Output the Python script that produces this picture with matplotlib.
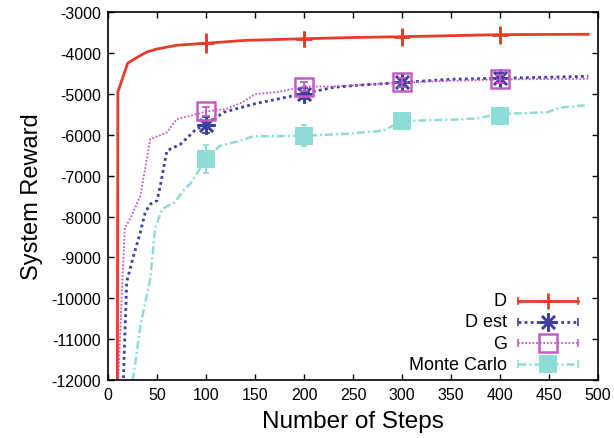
import matplotlib
matplotlib.use("Agg")
import matplotlib.pyplot as plt

plt.rcParams['font.family'] = ['Liberation Sans', 'DejaVu Sans']
plt.rcParams['axes.unicode_minus'] = False

# values
d_steps = [9, 10, 20, 30, 40, 50, 70, 100, 140, 200, 250, 300, 400, 490]
d_vals = [-20000, -4950, -4250, -4100, -3970, -3900, -3810, -3760, -3690,
          -3650, -3620, -3600, -3550, -3540]

dest_steps = [15, 19, 26, 33, 38, 43, 50, 54, 60, 74, 90, 100, 118, 148, 172,
              200, 230, 254, 300, 350, 400, 490]
dest_vals = [-12400, -9600, -8960, -8380, -7890, -7700, -7610, -7160, -6390,
             -6230, -5860, -5760, -5450, -5250, -5130, -4990, -4840, -4790,
             -4720, -4640, -4615, -4570]

g_steps = [10, 14, 17, 24, 33, 36, 43, 48, 60, 70, 84, 100, 120, 137, 150,
           174, 200, 230, 254, 300, 350, 400, 490]
g_vals = [-12300, -9930, -8300, -7980, -7490, -7080, -6105, -6060, -5940,
          -5620, -5535, -5430, -5370, -5210, -5005, -4950, -4820, -4820,
          -4785, -4720, -4680, -4645, -4630]

mc_steps = [23, 33, 43, 48, 55, 68, 78, 84, 100, 114, 128, 148, 200, 247, 281,
            300, 350, 376, 400, 448, 462, 490]
mc_vals = [-12400, -10670, -9530, -8300, -7820, -7650, -7330, -7200, -6590,
           -6270, -6190, -6040, -6025, -5970, -5900, -5660, -5630, -5600,
           -5490, -5450, -5330, -5275]

mark_steps = [100, 200, 300, 400]
d_mark = [-3760, -3650, -3600, -3550]
d_err = [250, 200, 220, 220]
dest_mark = [-5760, -4990, -4720, -4615]
dest_err = [200, 130, 120, 120]
g_mark = [-5430, -4820, -4720, -4645]
g_err = [120, 110, 100, 100]
mc_mark = [-6590, -6025, -5660, -5530]
mc_err = [340, 260, 150, 150]

labels = ['D', 'D est', 'G', 'Monte Carlo']
colors = ['#e63c28', '#3b40a0', '#c45ac4', '#8edcd6']

fig = plt.figure(figsize=(6.14, 4.39), dpi=100)
ax = fig.add_axes([0.176, 0.132, 0.798, 0.838])

# steps, values, marks, errors, linestyle, lw, marker, ms, mew, filled, capsize, err lw
series = [
    (d_steps, d_vals, d_mark, d_err, '-', 2.0, '+', 12, 2.0, False, 0, 2.0),
    (dest_steps, dest_vals, dest_mark, dest_err, (0, (1, 1.2)), 2.0, (8, 2, 0), 13, 1.8, False, 3, 1.4),
    (g_steps, g_vals, g_mark, g_err, (0, (1, 1)), 1.3, 's', 13, 1.8, False, 3, 1.4),
    (mc_steps, mc_vals, mc_mark, mc_err, (0, (3.2, 1.2, 0.8, 1.2)), 1.8, 's', 12.5, 0, True, 2.5, 1.4),
]

# gnuplot style key: right aligned text, sample line with end caps
key_y = [0.215, 0.158, 0.1005, 0.0435]
for i, ((xs, ys, ym, ye, ls, lw, mk, ms, mew, fill, cap, elw), lab, c) in enumerate(zip(series, labels, colors)):
    fc = c if fill else 'none'
    ax.plot(xs, ys, color=c, ls=ls, lw=lw)
    ax.errorbar(mark_steps, ym, yerr=ye, fmt='none', ecolor=c, elinewidth=elw,
                capsize=cap, capthick=1.3)
    ax.plot(mark_steps, ym, ls='none', marker=mk, ms=ms, mew=mew, mec=c, mfc=fc)

    ky = key_y[i]
    ax.text(0.814, ky, lab, ha='right', va='center', fontsize=13,
            transform=ax.transAxes)
    ax.plot([0.837, 0.959], [ky, ky], color=c, ls=ls, lw=lw,
            transform=ax.transAxes, clip_on=False)
    ax.plot([0.837, 0.959], [ky, ky], ls='none', marker='|', ms=6, mew=1.2,
            color=c, transform=ax.transAxes, clip_on=False)
    ax.plot([0.898], [ky], ls='none', marker=mk, ms=ms, mew=mew, mec=c, mfc=fc,
            transform=ax.transAxes, clip_on=False)

ax.set_xlim(0, 500)
ax.set_ylim(-12000, -3000)
ax.set_xticks(range(0, 501, 50))
ax.set_yticks(range(-12000, -2999, 1000))
ax.tick_params(direction='in', top=True, right=True, length=4, width=1,
               labelsize=11.5, pad=5)
for s in ax.spines.values():
    s.set_linewidth(1.2)
ax.set_xlabel('Number of Steps', fontsize=17.5, labelpad=6)
ax.set_ylabel('System Reward', fontsize=17, labelpad=6)

fig.savefig('out.png', dpi=100)
